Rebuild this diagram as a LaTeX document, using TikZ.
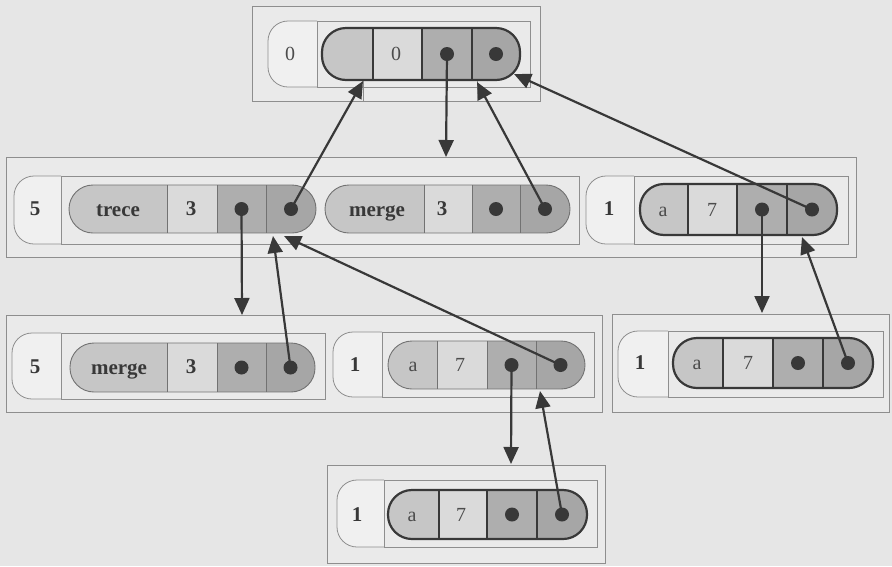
\documentclass[tikz,border=0pt]{standalone}
\usepackage{fontspec}
\setmainfont{Liberation Serif}
\usetikzlibrary{arrows.meta}
\definecolor{paper}{HTML}{E6E6E6}
\definecolor{boxfill}{HTML}{EAEAEA}
\definecolor{tagfill}{HTML}{F0F0F0}
\definecolor{boxline}{HTML}{8E8E8E}
\definecolor{cA}{HTML}{C6C6C6}
\definecolor{cB}{HTML}{DADADA}
\definecolor{cC}{HTML}{AEAEAE}
\definecolor{cD}{HTML}{A6A6A6}
\definecolor{ink}{HTML}{383838}
\tikzset{
  outerbox/.style={draw=boxline, line width=0.9pt, fill=boxfill},
  tagline/.style={draw=boxline, line width=0.8pt},
  thinpill/.style={draw=boxline!80!black, line width=0.9pt},
  thickpill/.style={draw=ink, line width=2.2pt},
  dot/.style={circle, fill=ink, draw=none, inner sep=0pt, minimum size=14pt},
  lbl/.style={font=\fontsize{21}{23}\selectfont\bfseries, text=ink, inner sep=0pt, text height=13pt, text depth=1pt},
  lbs/.style={font=\fontsize{20}{22}\selectfont, text=ink!90, inner sep=0pt, text height=13pt, text depth=1pt},
  arr/.style={draw=ink, line width=2.2pt, -{Triangle[length=17pt,width=15pt]}},
}
% tag: xl, xdiv, xr, ytop, ybot
\newcommand\mytag[5]{%
  \begin{scope}
    \clip (#1-2,#4-2) rectangle (#2,#5+2);
    \filldraw[tagline, fill=tagfill, rounded corners=20pt] (#1,#4) rectangle (#3,#5);
  \end{scope}
  \filldraw[tagline, fill=boxfill] (#2,#4) rectangle (#3,#5);
}
% pill: x0,x1,x2,x3,x4, ytop, ybot, style, name
\newcommand\mypill[9]{%
  \begin{scope}
    \clip[rounded corners=24pt] (#1,#6) rectangle (#5,#7);
    \fill[cA] (#1,#6) rectangle (#2,#7);
    \fill[cB] (#2,#6) rectangle (#3,#7);
    \fill[cC] (#3,#6) rectangle (#4,#7);
    \fill[cD] (#4,#6) rectangle (#5,#7);
  \end{scope}
  \draw[#8, rounded corners=24pt] (#1,#6) rectangle (#5,#7);
  \draw[#8] (#2,#6) -- (#2,#7) (#3,#6) -- (#3,#7) (#4,#6) -- (#4,#7);
  \node[dot] (#9c) at ({(#3+#4)/2},{(#6+#7)/2}) {};
  \node[dot] (#9d) at ({(#4+#5)/2},{(#6+#7)/2}) {};
}
\begin{document}
\begin{tikzpicture}[x=1pt,y=-1pt]
\useasboundingbox (0,0) rectangle (892,566);
\fill[paper] (0,0) rectangle (892,566);

% ---------- top node ----------
\draw[outerbox] (252,6) rectangle (540,101);
\mytag{268}{317}{530}{21}{87}
\draw[tagline] (363,80) -- (363,101) (477,80) -- (477,101);
\mypill{322}{373}{422}{472}{520}{28}{80}{thickpill}{top}
\node[lbs] (top0) at (290,54) {0};
\node[lbs] (topk) at (396,54) {0};

% ---------- row 2 ----------
\draw[outerbox] (6,157) rectangle (856,257);
\mytag{14}{61}{579}{176}{244}
\node[lbl] (r2n5) at (35,209) {5};
\mypill{69}{167}{217}{266}{316}{185}{233}{thinpill}{tre}
\node[lbl] (trece) at (118,210) {trece};
\node[lbl] (tre3) at (191,209) {3};
\mypill{325}{424}{472}{520}{570}{185}{233}{thinpill}{mer}
\node[lbl] (merge) at (377,210) {merge};
\node[lbl] (mer3) at (442,209) {3};
\mytag{586}{634}{848}{176}{244}
\node[lbl] (r2n1) at (609,209) {1};
\mypill{640}{688}{737}{787}{837}{184}{235}{thickpill}{rta}
\node[lbs] (rtaa) at (663,210) {a};
\node[lbs] (rta7) at (712,210) {7};

% ---------- row 3 ----------
\draw[outerbox] (6,315) rectangle (602,412);
\mytag{12}{61}{325}{333}{399}
\node[lbl] (r3n5) at (35,367) {5};
\mypill{70}{167}{217}{266}{315}{343}{392}{thinpill}{mtb}
\node[lbl] (merge2) at (119,368) {merge};
\node[lbl] (mtb3) at (191,367) {3};
\mytag{333}{382}{594}{332}{397}
\node[lbl] (r3n1) at (355,365) {1};
\mypill{388}{437}{487}{536}{585}{341}{389}{thinpill}{mab}
\node[lbs] (maba) at (413,365) {a};
\node[lbs] (mab7) at (460,365) {7};

\draw[outerbox] (612,314) rectangle (889,412);
\mytag{618}{668}{883}{331}{397}
\node[lbl] (r3n1b) at (640,363) {1};
\mypill{673}{723}{773}{823}{873}{338}{388}{thickpill}{rgt}
\node[lbs] (rgta) at (697,363) {a};
\node[lbs] (rgt7) at (748,363) {7};

% ---------- row 4 ----------
\draw[outerbox] (327,465) rectangle (605,563);
\mytag{337}{384}{597}{480}{547}
\node[lbl] (r4n1) at (357,515) {1};
\mypill{388}{439}{487}{537}{587}{490}{539}{thickpill}{bot}
\node[lbs] (bota) at (412,515) {a};
\node[lbs] (bot7) at (461,515) {7};

% ---------- arrow tips ----------
\coordinate (p1) at (363,81);
\coordinate (p2) at (446,157);
\coordinate (p3) at (477,82);
\coordinate (p4) at (514,74);
\coordinate (p5) at (242,315);
\coordinate (p6) at (273,236);
\coordinate (p7) at (284,236);
\coordinate (p8) at (762,313);
\coordinate (p9) at (802,237);
\coordinate (p10) at (511,464);
\coordinate (p11) at (540,391);

% ---------- arrows ----------
\draw[arr] (tred.center) -- (p1);
\draw[arr] (topc.center) -- (p2);
\draw[arr] (merd.center) -- (p3);
\draw[arr] (rtad.center) -- (p4);
\draw[arr] (trec.center) -- (p5);
\draw[arr] (mtbd.center) -- (p6);
\draw[arr] (mabd.center) -- (p7);
\draw[arr] (rtac.center) -- (p8);
\draw[arr] (rgtd.center) -- (p9);
\draw[arr] (mabc.center) -- (p10);
\draw[arr] (botd.center) -- (p11);
\end{tikzpicture}
\end{document}
